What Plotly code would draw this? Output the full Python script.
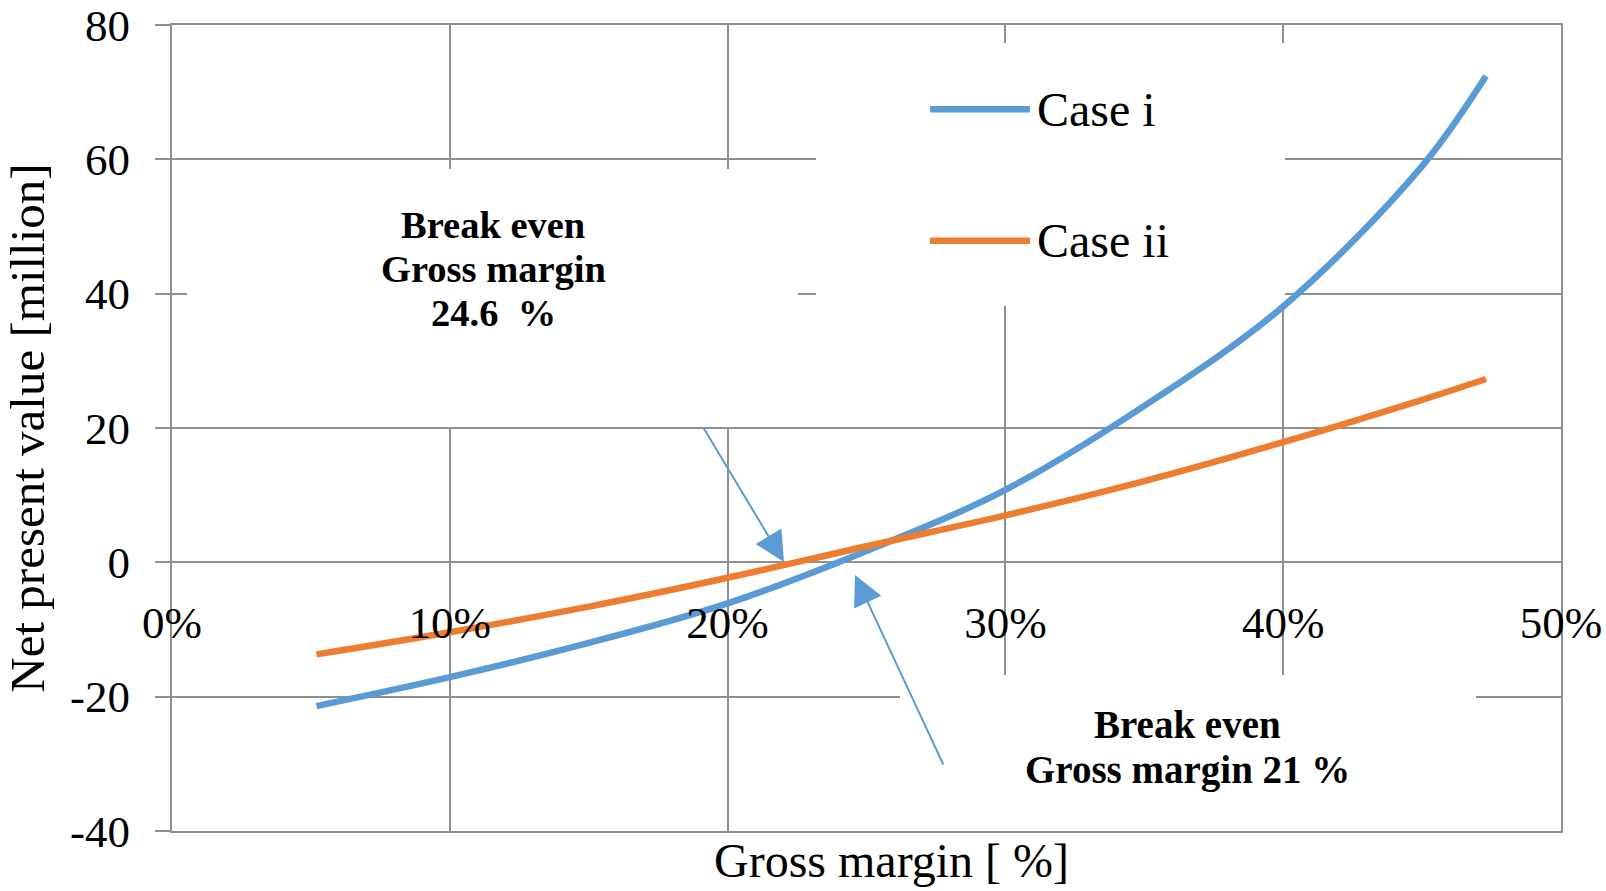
import plotly.graph_objects as go

# ---------------- data ----------------
gross_margin = [5.2, 10, 15, 20, 25, 30, 35, 40, 45, 47.3]
npv_case_i = [-21.4, -17.1, -12.0, -6.1, 1.7, 10.8, 23.3, 38.1, 59.0, 72.4]
npv_case_ii = [-13.7, -10.4, -6.6, -2.3, 2.4, 7.0, 12.1, 17.9, 24.2, 27.3]
series_names = ["Case i", "Case ii"]
series_colors = ["#5B9BD5", "#ED7D31"]

x_tick_vals = [0, 10, 20, 30, 40, 50]
x_tick_text = ["0%", "10%", "20%", "30%", "40%", "50%"]
y_tick_vals = [-40, -20, 0, 20, 40, 60, 80]
y_tick_text = ["-40", "-20", "0", "20", "40", "60", "80"]

note_case_i_lines = ["Break even", "Gross margin", "24.6&nbsp; %"]
note_case_ii_lines = ["Break even", "Gross margin 21 %"]

# ---------------- layout geometry ----------------
W, H = 1606, 891
ML, MR, MT, MB = 172, 45, 25, 60
X0, X1 = 0, 50
Y0, Y1 = -40, 80
PW, PH = W - ML - MR, H - MT - MB


def dx(px):
    return X0 + (px - ML) / PW * (X1 - X0)


def dy(py):
    return Y1 - (py - MT) / PH * (Y1 - Y0)


GRID = "#8F8F8F"
FONT = "Liberation Serif, Times New Roman, serif"

fig = go.Figure()
fig.add_trace(go.Scatter(
    x=gross_margin, y=npv_case_i, name=series_names[0], mode="lines",
    line=dict(color=series_colors[0], width=6.5, shape="spline", smoothing=1.0),
    xaxis="x", yaxis="y", showlegend=False, hoverinfo="x+y"))
fig.add_trace(go.Scatter(
    x=gross_margin, y=npv_case_ii, name=series_names[1], mode="lines",
    line=dict(color=series_colors[1], width=6.5, shape="spline", smoothing=1.0),
    xaxis="x2", yaxis="y", showlegend=False, hoverinfo="x+y"))

shapes = []
# white boxes behind text (cover gridlines, below traces)
for (a, b, c, d) in [(187, 798, 169, 427), (816, 1285, 43, 306), (900, 1476, 675, 831)]:
    shapes.append(dict(type="rect", xref="x", yref="y", layer="between",
                       x0=dx(a), x1=dx(b), y0=dy(c), y1=dy(d),
                       fillcolor="white", line=dict(width=0)))
# legend swatches
for i, py in enumerate([109.3, 240.7]):
    shapes.append(dict(type="line", xref="x", yref="y", layer="above",
                       x0=dx(930), x1=dx(1030), y0=dy(py), y1=dy(py),
                       line=dict(color=series_colors[i], width=6.5)))

annotations = []
for i, py in enumerate([109.3, 240.7]):
    annotations.append(dict(xref="x", yref="y", x=dx(1035), y=dy(py),
                            text=series_names[i], showarrow=False,
                            xanchor="left", yanchor="middle",
                            font=dict(family=FONT, size=48, color="black")))
for line, py in zip(note_case_i_lines, [224.5, 268.5, 312.5]):
    annotations.append(dict(xref="x", yref="y", x=dx(493), y=dy(py), text="<b>" + line + "</b>",
                            showarrow=False, xanchor="center", yanchor="middle",
                            font=dict(family=FONT, size=38.5, color="black")))
for line, py in zip(note_case_ii_lines, [724, 770]):
    annotations.append(dict(xref="x", yref="y", x=dx(1187), y=dy(py), text="<b>" + line + "</b>",
                            showarrow=False, xanchor="center", yanchor="middle",
                            font=dict(family=FONT, size=39, color="black")))
# arrows
annotations.append(dict(xref="x", yref="y", x=dx(784), y=dy(562), ax=703 - 784, ay=427 - 562,
                        text="", showarrow=True, arrowhead=2, arrowsize=3, arrowwidth=2,
                        arrowcolor=series_colors[0]))
annotations.append(dict(xref="x", yref="y", x=dx(855), y=dy(575), ax=944 - 855, ay=766 - 575,
                        text="", showarrow=True, arrowhead=2, arrowsize=3, arrowwidth=2,
                        arrowcolor=series_colors[0]))
# x axis title
annotations.append(dict(xref="paper", yref="paper", x=(891 - ML) / PW,
                        y=-(860 - (H - MB)) / PH, text="Gross margin [ %]", showarrow=False,
                        xanchor="center", yanchor="middle",
                        font=dict(family=FONT, size=48, color="black")))

fig.update_layout(
    width=W, height=H,
    margin=dict(l=ML, r=MR, t=MT, b=MB, autoexpand=False),
    paper_bgcolor="white", plot_bgcolor="white",
    font=dict(family=FONT, color="black"),
    showlegend=False,
    xaxis=dict(range=[X0, X1], tickvals=x_tick_vals, ticktext=x_tick_text,
               showticklabels=False, showgrid=True, gridcolor=GRID, gridwidth=2,
               zeroline=False, showline=True, linecolor=GRID, linewidth=2, mirror=True,
               ticks="", automargin=False),
    xaxis2=dict(range=[X0, X1], overlaying="x", anchor="free",
                position=(0 - Y0) / (Y1 - Y0), side="bottom",
                tickvals=x_tick_vals, ticktext=x_tick_text, showgrid=False,
                zeroline=False, showline=False, ticks="", ticklabelstandoff=30,
                automargin=False,
                tickfont=dict(family=FONT, size=45, color="black")),
    yaxis=dict(range=[Y0, Y1], tickvals=y_tick_vals, ticktext=y_tick_text,
               showgrid=True, gridcolor=GRID, gridwidth=2, zeroline=False,
               showline=True, linecolor=GRID, linewidth=2, mirror=True,
               ticks="outside", ticklen=15, tickwidth=2, tickcolor=GRID,
               ticklabelstandoff=16, automargin=False,
               tickfont=dict(family=FONT, size=45, color="black")),
    shapes=shapes,
    annotations=annotations,
)
fig.update_yaxes(title=dict(text="Net present value [million]", standoff=16,
                            font=dict(family=FONT, size=49, color="black")))

fig.write_html("out.html", config={"displayModeBar": False},
               post_script="document.body.style.margin='0';")
